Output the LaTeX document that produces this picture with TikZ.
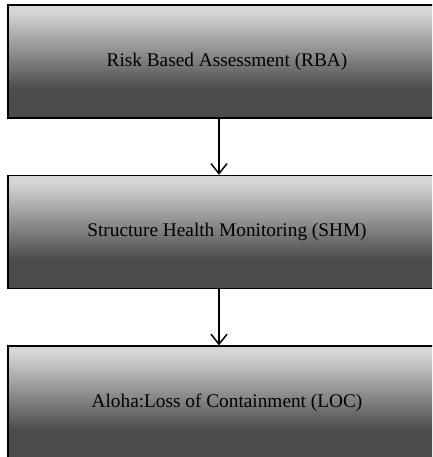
\documentclass[tikz,border=0pt]{standalone}
\usepackage{fontspec}
\setmainfont{Liberation Serif}
\usepackage{tikz}
\usetikzlibrary{arrows.meta,positioning}
\definecolor{BandLight}{RGB}{214,214,214}
\definecolor{BandDark}{RGB}{76,76,76}
\pgfdeclareverticalshading{bandshade}{100bp}{color(0bp)=(BandDark); color(25bp)=(BandDark); color(38bp)=(BandDark); color(72bp)=(BandLight); color(100bp)=(BandLight)}
\tikzset{
  stagebox/.style={
    draw=black,
    line width=1.6pt,
    shading=bandshade,
    minimum width=438pt,
    minimum height=113pt,
    inner sep=0pt,
    font=\fontsize{19.3}{23}\selectfont
  },
  flowarrow/.style={
    line width=1.5pt,
    -{Straight Barb[length=10pt,width=16pt]}
  }
}

\begin{document}
\begin{tikzpicture}
        \useasboundingbox (0,0) rectangle (432pt,-457pt);
        \clip (0,0) rectangle (432pt,-457pt);
        \node[stagebox] (rba) at (227pt,-61.5pt) {Risk Based Assessment (RBA)};
        \node[stagebox, below=56pt of rba] (shm) {Structure Health Monitoring (SHM)};
        \node[stagebox, below=56pt of shm] (loc) {Aloha:Loss of Containment (LOC)};
        \draw[flowarrow] ([xshift=-8pt]rba.south) -- ([xshift=-8pt]shm.north);
        \draw[flowarrow] ([xshift=-8pt]shm.south) -- ([xshift=-8pt]loc.north);
      \end{tikzpicture}
\end{document}
